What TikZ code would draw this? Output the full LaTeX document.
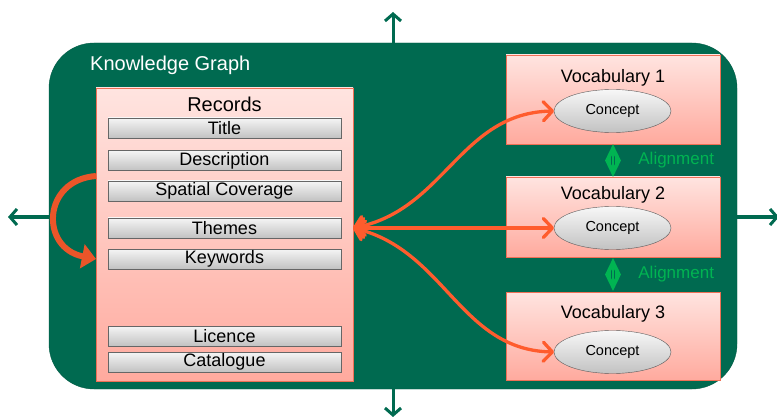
\documentclass[tikz,border=0pt]{standalone}
\usepackage{fontspec}
\setmainfont{Liberation Sans}
\usetikzlibrary{arrows.meta,positioning,shapes.geometric}
\definecolor{kggreen}{RGB}{0,106,80}
\definecolor{algreen}{RGB}{0,180,82}
\definecolor{linkorange}{RGB}{255,92,45}
\definecolor{boxedge}{RGB}{238,112,86}
\tikzset{
  kgbox/.style={fill=kggreen,draw=kggreen!85!black,rounded corners=45pt,outer sep=0pt},
  pinkbox/.style={draw=boxedge,top color={rgb,255:red,255;green,228;blue,224},
    bottom color={rgb,255:red,255;green,170;blue,158},outer sep=0pt,inner sep=0pt},
  field/.style={draw=black!60,top color=black!4,bottom color=black!24,minimum width=233pt,
    minimum height=20pt,inner sep=0pt,outer sep=0pt,font=\fontsize{18}{18}\selectfont},
  concept/.style={ellipse,draw=black!65,top color=black!3,bottom color=black!24,
    minimum width=117pt,minimum height=43pt,inner sep=0pt,outer sep=0pt,
    font=\fontsize{14.5}{14.5}\selectfont},
  title/.style={inner sep=0pt,font=\fontsize{18}{18}\selectfont},
  link/.style={linkorange,line width=3.3pt,
    {Straight Barb[length=9pt,width=19pt,round]}-{Straight Barb[length=9pt,width=19pt,round]}},
  outarrow/.style={kggreen,line width=3pt,-{Straight Barb[length=7pt,width=16pt]}},
  align/.style={diamond,fill=algreen,inner sep=0pt,minimum width=16pt,minimum height=33pt},
  altext/.style={algreen,inner sep=0pt,font=\fontsize{17}{17}\selectfont},
}
\begin{document}
\begin{tikzpicture}[x=1pt,y=-1pt]
\useasboundingbox (0,0) rectangle (777,417);
% knowledge graph frame and the arrows leaving it
\node[kgbox,minimum width=688pt,minimum height=346pt] (kg) at (393,216) {};
\coordinate (up) at (393,12);
\coordinate (down) at (393,417);
\coordinate (left) at (8,217);
\coordinate (right) at (779,217);
\draw[outarrow] (kg.north) -- (up);
\draw[outarrow] (kg.south) -- (down);
\draw[outarrow] (kg.west |- left) -- (left);
\draw[outarrow] (kg.east |- right) -- (right);
\node[anchor=west,white,inner sep=0pt,font=\fontsize{20}{20}\selectfont] (kgtitle) at (90,65) {Knowledge Graph};
% records
\node[pinkbox,minimum width=257pt,minimum height=293pt] (records) at (224.5,234.5) {};
\node[inner sep=0pt,font=\fontsize{20}{20}\selectfont] (rectitle) at (224.5,104) {Records};
\foreach \y/\t/\n in {128/Title/title,160.5/Description/desc,191/Spatial Coverage/spatial,
  228/Themes/themes,259/Keywords/keywords,336/Licence/licence,362/Catalogue/catalogue}
  \node[field] (\n) at (224.5,\y) {\t};
% vocabularies
\foreach \i/\yc/\h/\yt/\yo in {1/99.5/89/78/111,2/217/80/195/228,3/336/88/314/352}{
  \node[pinkbox,minimum width=214pt,minimum height=\h pt] (v\i) at (613,\yc) {};
  \node[title] (v\i title) at (613,\yt) {Vocabulary \i};
  \node[concept] (c\i) at (612.5,\yo) {Concept};
}
% alignments
\foreach \i/\y in {1/160.5,2/274.5}{
  \node[align] (al\i) at (613,\y) {};
  \draw[kggreen,line width=4.5pt,line cap=round] ([yshift=3pt]al\i.center) -- ([yshift=-3pt]al\i.center);
  \draw[algreen,line width=1.2pt] ([yshift=7pt]al\i.center) -- ([yshift=-7pt]al\i.center);
  \node[altext,right=17pt of al\i] (altext\i) {Alignment};
}
% links from records to concepts
\coordinate (hub) at (records.east |- themes);
\draw[link] (hub) .. controls (445,210) and (460,113) .. (c1.west);
\draw[link] (hub) -- (c2.west);
\draw[link] (hub) .. controls (445,250) and (460,350) .. (c3.west);
\draw[linkorange!92!black,line width=6pt,-{Triangle[length=14pt,width=24pt]}]
  (records.west |- 0,176) .. controls (42,180) and (40,248) .. (records.west |- keywords);
\end{tikzpicture}
\end{document}
